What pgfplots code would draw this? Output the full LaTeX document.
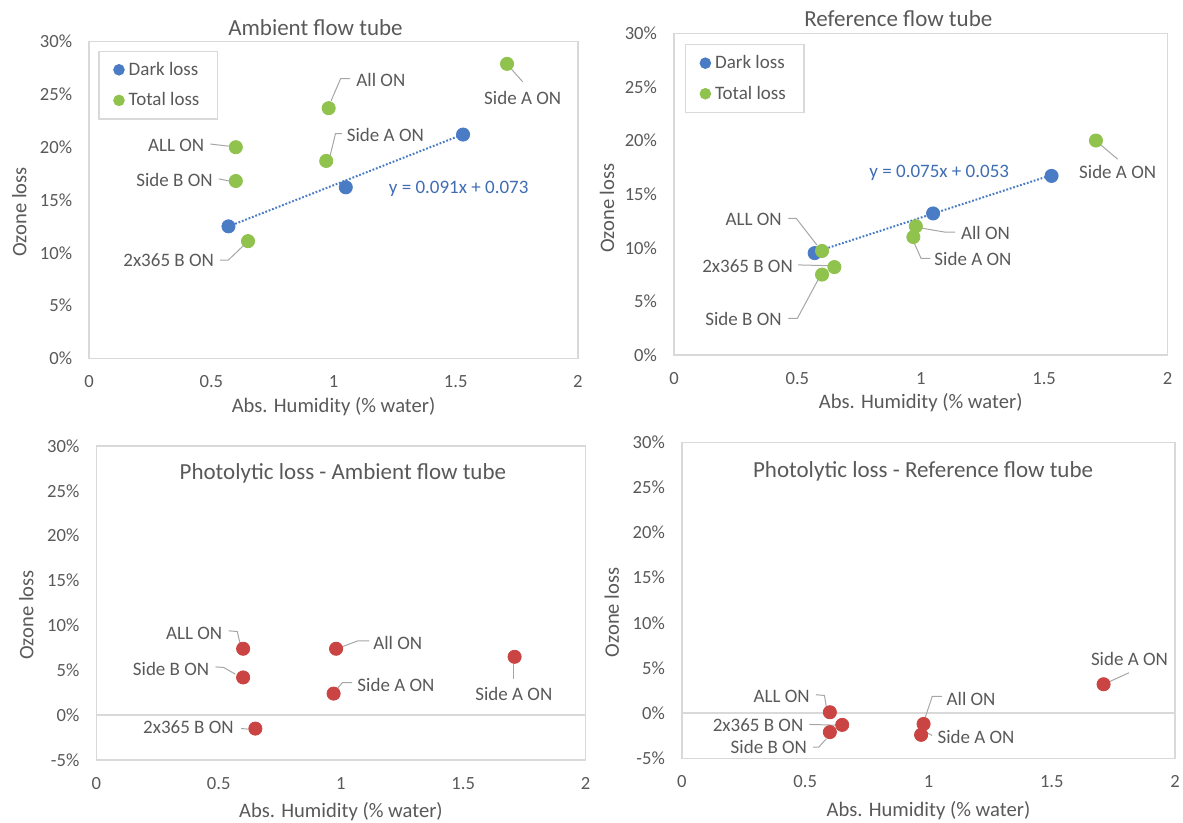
\documentclass[border=0pt]{standalone}
\usepackage{fontspec}
\setmainfont{Carlito}
\usepackage{pgfplots}
\usepackage{pgfplotstable}
\pgfplotsset{compat=1.18}
\definecolor{tgray}{HTML}{595959}
\definecolor{fgray}{HTML}{D9D9D9}
\definecolor{lgray}{HTML}{A6A6A6}
\definecolor{cblue}{HTML}{4A7CC6}
\definecolor{cgreen}{HTML}{90C24E}
\definecolor{cred}{HTML}{C94442}
\definecolor{eqblue}{HTML}{3F6DB3}

\pgfplotstableread{
x y
0.57 12.5
1.05 16.2
1.53 21.2
}\darkA
\pgfplotstableread{
x y
0.60 20.0
0.60 16.8
0.65 11.1
0.98 23.7
0.97 18.7
1.71 27.9
}\totalA
\pgfplotstableread{
x y
0.57 9.5
1.05 13.2
1.53 16.7
}\darkB
\pgfplotstableread{
x y
0.60 9.7
0.65 8.2
0.60 7.5
0.98 12.0
0.97 11.0
1.71 20.0
}\totalB
\pgfplotstableread{
x y
0.60 7.4
0.60 4.2
0.65 -1.5
0.98 7.4
0.97 2.4
1.71 6.5
}\photoA
\pgfplotstableread{
x y
0.60 0.1
0.65 -1.3
0.60 -2.1
0.98 -1.2
0.97 -2.4
1.71 3.2
}\photoB

\pgfplotsset{
  panel/.style={
    scale only axis, clip=false,
    xmin=0, xmax=2,
    xtick={0,0.5,1,1.5,2}, xticklabels={0,0.5,1,1.5,2},
    axis line style={fgray, line width=0.75pt},
    major tick length=0pt,
    /pgf/number format/assume math mode=true,
    tick label style={font=\fontsize{9.3}{11}\selectfont, text=tgray},
    xticklabel style={yshift=-5pt},
    yticklabel style={xshift=-5pt},
    every axis x label/.style={at={(axis description cs:0.5,0)}, anchor=center, yshift=-24pt, font=\fontsize{10.3}{12}\selectfont, text=tgray},
    every axis y label/.style={at={(axis description cs:0,0.5)}, xshift=-35pt, yshift=-6pt, rotate=90, anchor=center, font=\fontsize{10.3}{12}\selectfont, text=tgray},
    every axis title/.style={font=\fontsize{11.5}{13}\selectfont, text=tgray},
    xlabel={Abs. Humidity (\% water)}, ylabel={Ozone loss},
    legend cell align=left,
    legend image code/.code={\fill[##1] (0pt,0pt) circle (2.5pt);},
  },
  toppanel/.style={panel, ymin=0, ymax=30, ytick={0,5,...,30},
    yticklabels={0\%,5\%,10\%,15\%,20\%,25\%,30\%}},
  botpanel/.style={panel, ymin=-5, ymax=30, ytick={-5,0,...,30},
    yticklabels={-5\%,0\%,5\%,10\%,15\%,20\%,25\%,30\%},
    every axis x label/.style={at={(axis description cs:0.5,0)}, anchor=center, yshift=-26pt, font=\fontsize{10.3}{12}\selectfont, text=tgray}},
  lgd/.style={draw=fgray, line width=0.75pt, fill=white, font=\fontsize{9.5}{11}\selectfont, text=tgray,
    inner xsep=7pt, inner ysep=4pt, row sep=4.8pt, anchor=north west,
    nodes={inner xsep=2pt, inner ysep=1pt, text height=7pt, text depth=1.5pt}},
}
\tikzset{
  lbl/.style={font=\fontsize{9.5}{11}\selectfont, text=tgray, inner sep=0pt},
  lead/.style={lgray, line width=0.5pt},
  mk/.style={only marks, mark=*, mark size=3.3pt},
}

\begin{document}
\begin{tikzpicture}
\useasboundingbox (0,0) rectangle (591.5pt,411.5pt);

% ---------------- Panel 1: Ambient flow tube
\begin{axis}[toppanel, at={(44.6pt,232.35pt)}, anchor=south west,
  width=244.35pt, height=158.3pt,
  title={Ambient flow tube},
  title style={at={(axis description cs:0.463,1)}, anchor=center, yshift=7pt},
  legend style={lgd, at={(axis description cs:0.019,0.972)}}]
\draw[lead] (axis cs:0.99,24.4) -- (axis cs:1.029,26.5) -- (axis cs:1.068,26.5);
\draw[lead] (axis cs:0.985,19.1) -- (axis cs:1.008,21.3) -- (axis cs:1.034,21.3);
\draw[lead] (axis cs:0.496,20.3) -- (axis cs:0.571,20.1);
\draw[lead] (axis cs:0.530,17.0) -- (axis cs:0.574,16.8);
\draw[lead] (axis cs:0.535,9.3) -- (axis cs:0.569,9.3) -- (axis cs:0.637,10.8);
\draw[lead] (axis cs:1.724,27.5) -- (axis cs:1.774,26.2);
\addplot[cblue, line width=1pt, dash pattern=on 0.9pt off 0.9pt, forget plot] coordinates {(0.57,12.49) (1.53,21.22)};
\addplot[mk, cblue, mark options={fill=cblue, draw=cblue}] table {\darkA};
\addplot[mk, cgreen, mark options={fill=cgreen, draw=cgreen}] table {\totalA};
\legend{Dark loss, Total loss}
\node[lbl, anchor=west] at (axis cs:1.092,26.4) {All ON};
\node[lbl, anchor=west] at (axis cs:1.053,21.2) {Side A ON};
\node[lbl, anchor=east] at (axis cs:0.472,20.2) {ALL ON};
\node[lbl, anchor=east] at (axis cs:0.507,16.9) {Side B ON};
\node[lbl, anchor=east] at (axis cs:0.512,9.3) {2x365 B ON};
\node[lbl, anchor=center] at (axis cs:1.774,24.7) {Side A ON};
\node[lbl, anchor=center, text=eqblue] at (axis cs:1.512,16.05) {y = 0.091x + 0.073};
\end{axis}

% ---------------- Panel 2: Reference flow tube
\begin{axis}[toppanel, at={(337pt,234pt)}, anchor=south west,
  width=246.75pt, height=160.85pt,
  title={Reference flow tube},
  title style={at={(axis description cs:0.4545,1)}, anchor=center, yshift=7.2pt},
  every axis y label/.style={at={(axis description cs:0,0.5)}, xshift=-33.5pt, yshift=-7pt, rotate=90, anchor=center, font=\fontsize{10.3}{12}\selectfont, text=tgray},
  legend style={lgd, at={(axis description cs:0.022,0.967)}}]
\draw[lead] (axis cs:1.729,19.6) -- (axis cs:1.798,18.26);
\draw[lead] (axis cs:0.464,12.75) -- (axis cs:0.495,12.75) -- (axis cs:0.579,10.26);
\draw[lead] (axis cs:0.993,11.87) -- (axis cs:1.100,11.45) -- (axis cs:1.139,11.45);
\draw[lead] (axis cs:0.971,10.57) -- (axis cs:1.001,9.02) -- (axis cs:1.039,9.02);
\draw[lead] (axis cs:0.503,8.40) -- (axis cs:0.625,8.33);
\draw[lead] (axis cs:0.464,3.42) -- (axis cs:0.500,3.42) -- (axis cs:0.587,7.15);
\addplot[cblue, line width=1pt, dash pattern=on 0.9pt off 0.9pt, forget plot] coordinates {(0.57,9.58) (1.53,16.78)};
\addplot[mk, cblue, mark options={fill=cblue, draw=cblue}] table {\darkB};
\addplot[mk, cgreen, mark options={fill=cgreen, draw=cgreen}] table {\totalB};
\legend{Dark loss, Total loss}
\node[lbl, anchor=center, text=eqblue] at (axis cs:1.075,16.95) {y = 0.075x + 0.053};
\node[lbl, anchor=center] at (axis cs:1.798,17.04) {Side A ON};
\node[lbl, anchor=east] at (axis cs:0.438,12.6) {ALL ON};
\node[lbl, anchor=west] at (axis cs:1.162,11.35) {All ON};
\node[lbl, anchor=west] at (axis cs:1.054,8.93) {Side A ON};
\node[lbl, anchor=east] at (axis cs:0.483,8.33) {2x365 B ON};
\node[lbl, anchor=east] at (axis cs:0.438,3.36) {Side B ON};
\end{axis}

% ---------------- Panel 3: Photolytic loss - Ambient
\begin{axis}[botpanel, at={(48.2pt,31.5pt)}, anchor=south west,
  width=244.55pt, height=157pt,
  title={Photolytic loss - Ambient flow tube},
  title style={at={(axis description cs:0.504,0.913)}, anchor=center}]
\draw[fgray, line width=0.75pt] (axis cs:0,0) -- (axis cs:2,0);
\draw[lead] (axis cs:0.541,9.40) -- (axis cs:0.576,9.32) -- (axis cs:0.588,7.92);
\draw[lead] (axis cs:0.487,5.38) -- (axis cs:0.521,5.31) -- (axis cs:0.568,4.57);
\draw[lead] (axis cs:0.592,-1.49) -- (axis cs:0.620,-1.56);
\draw[lead] (axis cs:1.003,7.61) -- (axis cs:1.069,8.28) -- (axis cs:1.116,8.28);
\draw[lead] (axis cs:0.980,2.79) -- (axis cs:1.006,3.63) -- (axis cs:1.046,3.63);
\draw[lead] (axis cs:1.706,5.69) -- (axis cs:1.706,4.01);
\addplot[mk, cred, mark options={fill=cred, draw=cred}] table {\photoA};
\node[lbl, anchor=east] at (axis cs:0.516,9.14) {ALL ON};
\node[lbl, anchor=east] at (axis cs:0.463,5.20) {Side B ON};
\node[lbl, anchor=east] at (axis cs:0.563,-1.38) {2x365 B ON};
\node[lbl, anchor=west] at (axis cs:1.131,8.09) {All ON};
\node[lbl, anchor=west] at (axis cs:1.066,3.34) {Side A ON};
\node[lbl, anchor=center] at (axis cs:1.707,2.41) {Side A ON};
\end{axis}

% ---------------- Panel 4: Photolytic loss - Reference
\begin{axis}[botpanel, at={(340.95pt,32.35pt)}, anchor=south west,
  width=246.6pt, height=158pt,
  title={Photolytic loss - Reference flow tube},
  title style={at={(axis description cs:0.489,0.907)}, anchor=center}]
\draw[fgray, line width=0.75pt] (axis cs:0,0) -- (axis cs:2,0);
\draw[lead] (axis cs:1.729,3.43) -- (axis cs:1.813,4.47);
\draw[lead] (axis cs:0.544,2.04) -- (axis cs:0.578,1.96) -- (axis cs:0.586,0.66);
\draw[lead] (axis cs:0.985,-0.62) -- (axis cs:1.015,1.85) -- (axis cs:1.054,1.85);
\draw[lead] (axis cs:0.517,-1.25) -- (axis cs:0.624,-1.33);
\draw[lead] (axis cs:0.532,-3.77) -- (axis cs:0.555,-3.77) -- (axis cs:0.586,-2.83);
\draw[lead] (axis cs:0.977,-1.92) -- (axis cs:1.015,-2.47);
\addplot[mk, cred, mark options={fill=cred, draw=cred}] table {\photoB};
\node[lbl, anchor=center] at (axis cs:1.815,6.02) {Side A ON};
\node[lbl, anchor=east] at (axis cs:0.520,1.88) {ALL ON};
\node[lbl, anchor=west] at (axis cs:1.072,1.59) {All ON};
\node[lbl, anchor=east] at (axis cs:0.494,-1.28) {2x365 B ON};
\node[lbl, anchor=east] at (axis cs:0.509,-3.77) {Side B ON};
\node[lbl, anchor=west] at (axis cs:1.035,-2.66) {Side A ON};
\end{axis}
\end{tikzpicture}
\end{document}
